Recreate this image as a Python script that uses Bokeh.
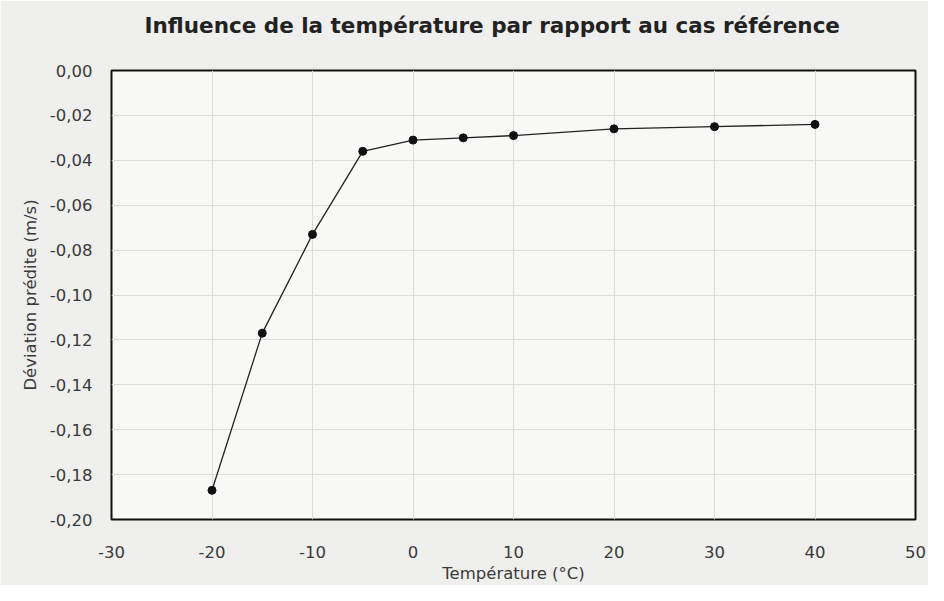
from bokeh.plotting import figure
from bokeh.models import Range1d, FixedTicker, CustomJSTickFormatter, Title
from bokeh.embed import file_html
from bokeh.resources import INLINE

temperature = [-20, -15, -10, -5, 0, 5, 10, 20, 30, 40]
deviation = [-0.187, -0.117, -0.073, -0.036, -0.031, -0.030, -0.029, -0.026, -0.025, -0.024]
x_ticks = [-30, -20, -10, 0, 10, 20, 30, 40, 50]
y_ticks = [-0.20, -0.18, -0.16, -0.14, -0.12, -0.10, -0.08, -0.06, -0.04, -0.02, 0.00]
title_text = "Influence de la température par rapport au cas référence"

p = figure(width=928, height=585, output_backend="svg", toolbar_location=None,
           x_range=Range1d(-30, 50), y_range=Range1d(-0.20, 0.0),
           min_border_left=111, min_border_right=13, min_border_top=70, min_border_bottom=63)

p.background_fill_color = "#f8f8f7"
p.border_fill_color = "#efefed"
p.outline_line_color = "#111111"
p.outline_line_width = 2

font = "DejaVu Sans"
# an empty second line lifts the title towards the top of the chart
t = Title(text=title_text + "\n", align="left", offset=33, standoff=5,
          text_font=font, text_font_size="21.5px", text_font_style="bold",
          text_line_height=1.2, text_color="#222222")
p.add_layout(t, "above")

for ax in (p.xaxis, p.yaxis):
    ax.axis_line_color = None
    ax.major_tick_line_color = None
    ax.minor_tick_line_color = None
    ax.major_label_text_font = font
    ax.major_label_text_font_size = "16.5px"
    ax.major_label_text_color = "#3a3a3a"
    ax.axis_label_text_font = font
    ax.axis_label_text_font_size = "16.5px"
    ax.axis_label_text_font_style = "normal"
    ax.axis_label_text_color = "#3a3a3a"

p.xaxis.ticker = FixedTicker(ticks=x_ticks)
p.yaxis.ticker = FixedTicker(ticks=y_ticks)
p.xaxis.formatter = CustomJSTickFormatter(code="return String(Math.round(tick));")
p.yaxis.formatter = CustomJSTickFormatter(code="""
    var v = Math.abs(tick) < 1e-9 ? 0 : tick;
    return v.toFixed(2).replace('.', ',');
""")
p.xaxis.axis_label = "Température (°C)"
p.yaxis.axis_label = "Déviation prédite (m/s)"
p.xaxis.major_label_standoff = 20
p.yaxis.major_label_standoff = 13
p.xaxis.axis_label_standoff = 3
p.yaxis.axis_label_standoff = 7

p.xgrid.ticker = FixedTicker(ticks=x_ticks)
p.ygrid.ticker = FixedTicker(ticks=y_ticks)
p.xgrid.grid_line_color = "#dcdcdc"
p.ygrid.grid_line_color = "#dcdcdc"

p.line(temperature, deviation, line_color="#222222", line_width=1.3)
p.scatter(temperature, deviation, marker="circle", size=8, color="#111111")

open("out.html", "w").write(file_html(p, INLINE))
